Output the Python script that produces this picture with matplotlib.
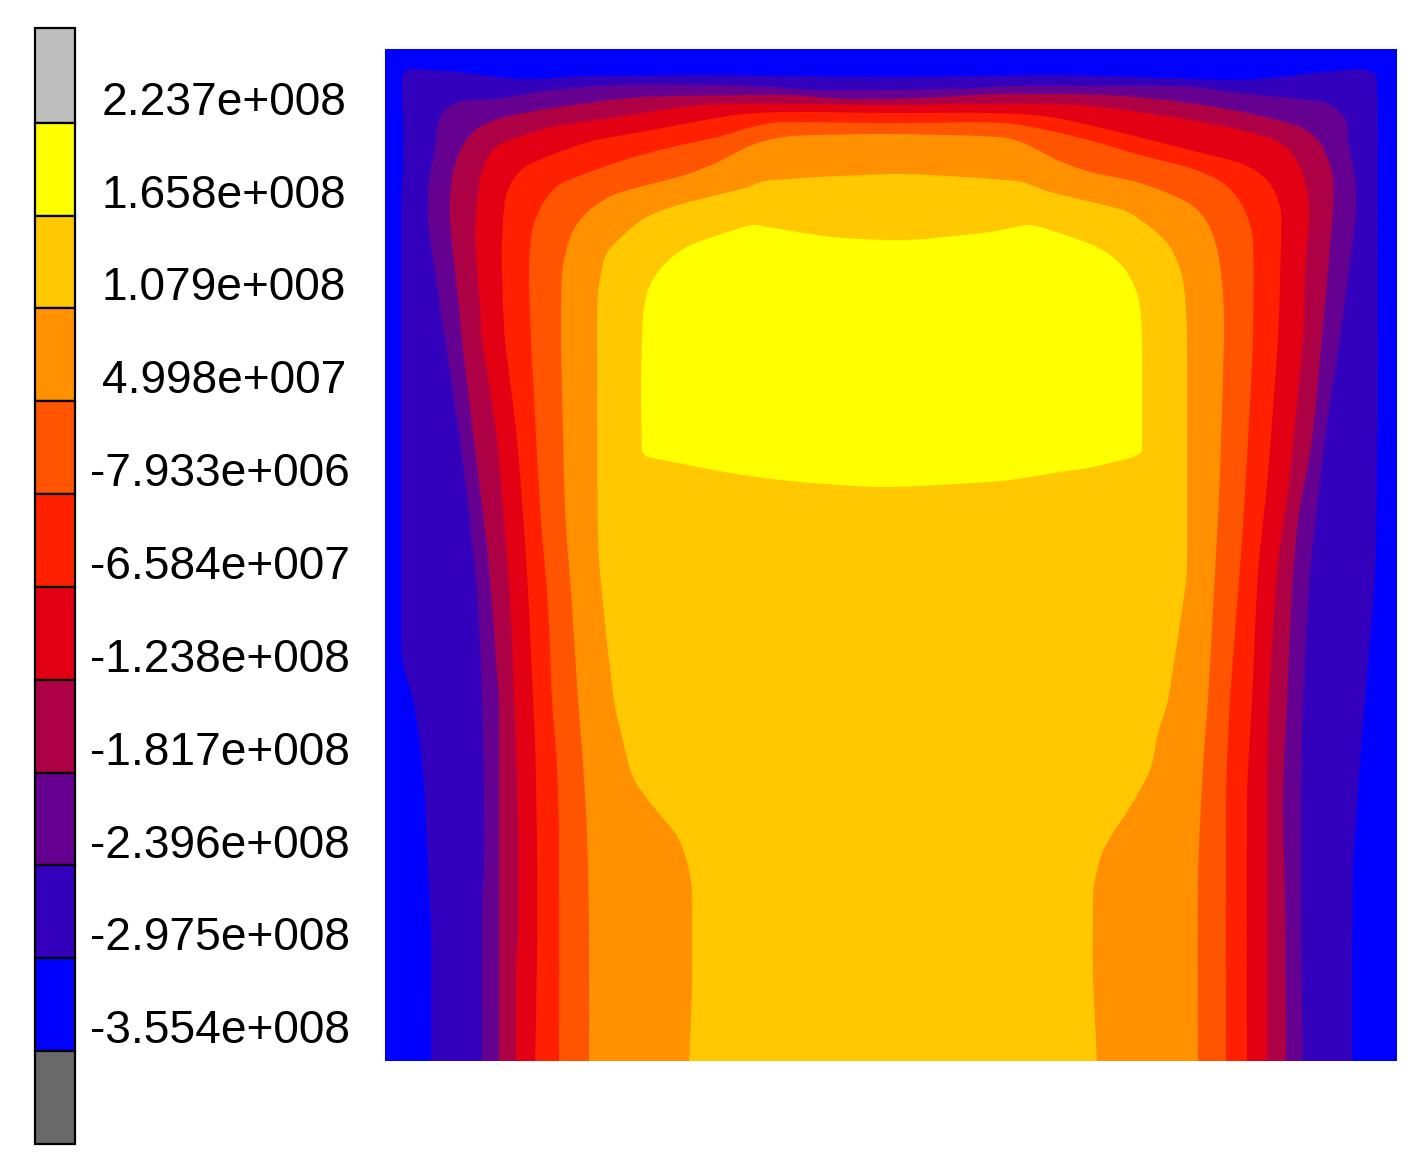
#!/usr/bin/env python3
"""Filled stress contours with a stepped legend bar on the left."""
import numpy as np
import matplotlib
matplotlib.use("Agg")
import matplotlib.pyplot as plt
from matplotlib.path import Path
from matplotlib.patches import PathPatch

W, H = 1423, 1168

# legend, top to bottom
bar_colors = ["#BEBEBE", "#FFFF00", "#FFC800", "#FF9000", "#FF5500", "#FF2000",
              "#E30014", "#AE0044", "#660090", "#3300BB", "#0000FF", "#696969"]
bar_labels = ["2.237e+008", "1.658e+008", "1.079e+008", "4.998e+007",
              "-7.933e+006", "-6.584e+007", "-1.238e+008", "-1.817e+008",
              "-2.396e+008", "-2.975e+008", "-3.554e+008"]

# contour outlines, clockwise from top left, in plot units
indigo_edge = [(403, 73), (412, 69), (458, 72), (522, 79), (585, 76), (718, 75), (890, 77),
               (1063, 75), (1237, 80), (1323, 72), (1360, 69), (1372, 72), (1377, 78), (1378, 140),
               (1378, 340), (1377, 473), (1375, 573), (1365, 700), (1362, 733), (1357, 807),
               (1353, 867), (1352, 1000), (1352, 1061), (431, 1061), (431, 933), (428, 867),
               (425, 800), (420, 743), (413, 700), (402, 660), (401, 607), (401, 340), (401, 207),
               (403, 157), (402, 90)]
purple_edge = [(438, 123), (445, 110), (462, 101), (502, 98), (552, 90), (618, 85), (718, 85),
               (775, 87), (812, 90), (890, 90), (973, 88), (1010, 86), (1183, 86), (1240, 93),
               (1323, 102), (1345, 118), (1348, 140), (1355, 180), (1356, 207), (1352, 247),
               (1340, 337), (1327, 423), (1317, 507), (1310, 573), (1303, 700), (1301, 800),
               (1301, 933), (1303, 1061), (482, 1061), (482, 900), (484, 867), (484, 800),
               (482, 700), (478, 607), (472, 540), (460, 440), (445, 340), (440, 307), (433, 257),
               (428, 220), (429, 180), (435, 150)]
crimson_edge = [(450, 200), (453, 173), (462, 147), (478, 128), (505, 117), (552, 108), (642, 97),
                (788, 95), (842, 99), (890, 99), (943, 97), (997, 94), (1107, 95), (1190, 103),
                (1257, 115), (1300, 127), (1320, 143), (1332, 173), (1333, 207), (1330, 247),
                (1322, 337), (1312, 440), (1300, 507), (1293, 573), (1287, 700), (1283, 800),
                (1285, 903), (1286, 1061), (499, 1061), (499, 700), (497, 673), (488, 557),
                (473, 433), (462, 340), (459, 307), (453, 253), (450, 220)]
red_edge = [(476, 213), (480, 180), (488, 157), (502, 143), (552, 127), (618, 117), (702, 105),
            (798, 104), (890, 105), (987, 104), (1077, 105), (1173, 117), (1240, 130), (1280, 143),
            (1300, 167), (1309, 207), (1305, 273), (1303, 337), (1290, 473), (1277, 573),
            (1269, 700), (1267, 783), (1267, 1061), (516, 1061), (516, 967), (518, 933), (518, 817),
            (514, 700), (510, 600), (497, 440), (482, 340), (480, 307), (475, 240)]
bright_edge = [(502, 240), (505, 200), (513, 180), (528, 165), (585, 143), (652, 130), (735, 115),
               (795, 112), (890, 113), (990, 113), (1050, 117), (1123, 133), (1190, 150),
               (1240, 163), (1267, 180), (1280, 207), (1281, 240), (1278, 337), (1268, 473),
               (1258, 573), (1252, 700), (1247, 800), (1247, 1061), (535, 1061),
               (537, 960), (537, 843), (535, 740), (533, 700), (527, 573), (517, 440), (505, 340),
               (502, 273)]
orangered_edge = [(529, 267), (533, 227), (545, 200), (562, 183), (618, 162), (668, 148), (718, 137),
                  (752, 127), (782, 122), (890, 123), (1003, 123), (1077, 137), (1140, 155),
                  (1190, 168), (1223, 183), (1243, 207), (1253, 240), (1253, 337), (1248, 440),
                  (1242, 540), (1230, 700), (1226, 800), (1226, 1061), (559, 1061), (559, 843),
                  (557, 767), (552, 700), (548, 607), (540, 507), (531, 340)]
orange_edge = [(562, 273), (567, 247), (575, 227), (592, 208), (618, 193), (685, 175), (718, 162),
               (752, 145), (792, 136), (890, 134), (1007, 138), (1057, 160), (1090, 172),
               (1140, 183), (1187, 202), (1207, 222), (1218, 253), (1223, 293), (1224, 337),
               (1220, 473), (1215, 573), (1208, 700), (1203, 767), (1198, 880), (1198, 1061),
               (589, 1061), (589, 933), (587, 833), (582, 750), (578, 700), (572, 607), (565, 507),
               (561, 340)]
gold_edge = [(598, 293), (605, 257), (618, 240), (645, 218), (678, 205), (745, 188), (765, 181),
             (818, 177), (890, 174), (930, 175), (1017, 181), (1050, 192), (1123, 210), (1150, 227),
             (1170, 247), (1183, 280), (1187, 337), (1187, 567), (1180, 623), (1168, 700),
             (1158, 733), (1150, 770), (1130, 807), (1113, 833), (1102, 853), (1095, 880),
             (1093, 900), (1093, 973), (1097, 1061), (689, 1061), (692, 987), (692, 890),
             (685, 855), (675, 833), (652, 805), (633, 777), (622, 737), (614, 700), (605, 623),
             (598, 540), (597, 340)]
yellow_edge = [(643, 317), (648, 290), (662, 267), (685, 248), (718, 235), (752, 225), (768, 227),
               (832, 237), (890, 240), (923, 239), (990, 232), (1027, 225), (1050, 230), (1097, 247),
               (1123, 267), (1138, 297), (1142, 337), (1142, 450), (1133, 457), (1093, 467),
               (1060, 472), (1000, 481), (885, 487), (790, 481), (725, 472), (648, 457), (642, 450),
               (641, 390), (642, 340)]

bands = [indigo_edge, purple_edge, crimson_edge, red_edge, bright_edge,
         orangered_edge, orange_edge, gold_edge, yellow_edge]
band_colors = ["#3300BB", "#660090", "#AE0044", "#E30014", "#FF2000",
               "#FF5500", "#FF9000", "#FFC800", "#FFFF00"]


def px_axes(fig, x0, y0, x1, y1):
    return fig.add_axes([x0 / W, 1 - y1 / H, (x1 - x0) / W, (y1 - y0) / H])


def smooth_path(edge):
    """Closed path through the outline points, curved with Bezier handles."""
    pts = np.array(edge, dtype=float)
    n = len(pts)
    # handles proportional to the shorter neighbouring segment, avoids overshoot
    tang = np.roll(pts, -1, axis=0) - np.roll(pts, 1, axis=0)
    tang /= np.linalg.norm(tang, axis=1, keepdims=True)
    seg = np.linalg.norm(np.roll(pts, -1, axis=0) - pts, axis=1)
    sharp = pts[:, 1] >= 1061  # corners on the bottom edge stay sharp
    verts = [pts[0]]
    codes = [Path.MOVETO]
    for i in range(n):
        j = (i + 1) % n
        h = seg[i] / 3
        c1 = pts[i] + (0 if sharp[i] else tang[i] * min(h, seg[i - 1] / 3))
        c2 = pts[j] - (0 if sharp[j] else tang[j] * min(h, seg[j] / 3))
        verts += [c1, c2, pts[j]]
        codes += [Path.CURVE4] * 3
    return Path(np.array(verts), codes)


def main():
    plt.rcParams["font.family"] = ["Liberation Sans", "DejaVu Sans"]
    fig = plt.figure(figsize=(W / 100, H / 100), dpi=100, facecolor="white")

    # contour field
    ax = px_axes(fig, 385, 49, 1397, 1061)
    ax.set_xlim(385, 1397)
    ax.set_ylim(1061, 49)
    ax.axis("off")
    ax.fill([385, 1397, 1397, 385], [49, 49, 1061, 1061], color="#0000FF", lw=0)
    for edge, col in zip(bands, band_colors):
        ax.add_patch(PathPatch(smooth_path(edge), facecolor=col, edgecolor="none", lw=0))

    # legend bar
    cax = px_axes(fig, 35, 28, 75, 1144)
    n = len(bar_colors)
    heights = np.ones(n)
    bottoms = np.arange(n, dtype=float)
    heights[0] += 0.02
    bottoms[0] -= 0.02
    cax.bar(np.zeros(n), heights, width=1, bottom=bottoms, color=bar_colors,
            edgecolor="black", linewidth=1.6)
    cax.set_xlim(-0.5, 0.5)
    cax.set_ylim(n, -0.02)
    cax.axis("off")
    for bar in cax.patches:
        bar.set_clip_on(False)

    for i, lab in enumerate(bar_labels):
        right = 350 if lab.startswith("-") else 346
        cax.annotate(lab, xy=(1, i + 0.785), xycoords=("axes fraction", "data"),
                     xytext=((right - 75) * 0.72, 0), textcoords="offset points",
                     ha="right", va="center", fontsize=33.2, color="black")

    fig.savefig("out.png", dpi=100)


if __name__ == "__main__":
    main()
